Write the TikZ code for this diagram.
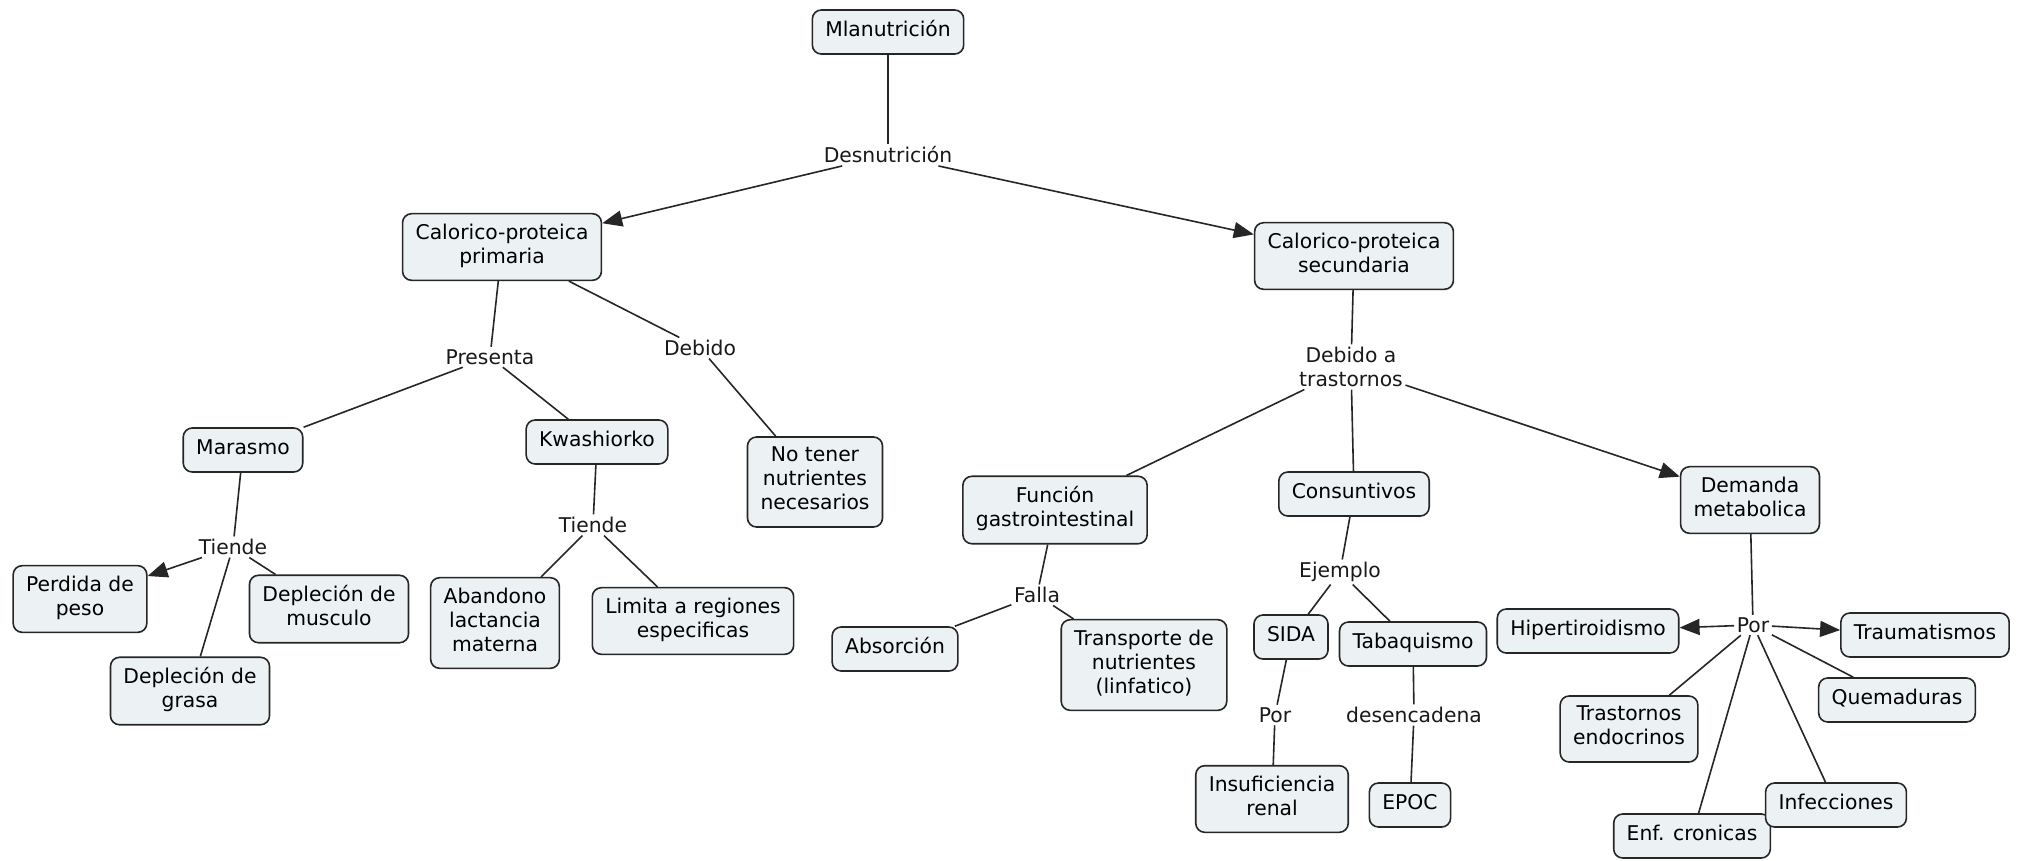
\documentclass[tikz,border=0pt]{standalone}
\usepackage{fontspec}
\setmainfont{DejaVu Sans}
\usepackage{tikz}
\usetikzlibrary{calc}
\usetikzlibrary{arrows.meta,shapes}
\definecolor{boxfill}{rgb}{0.925,0.945,0.953}
\definecolor{edge}{rgb}{0.15,0.15,0.15}

\begin{document}
\begin{tikzpicture}[x=1pt,y=-1pt,
  font=\fontsize{20.3}{24}\selectfont,
  concept/.style={draw=edge,fill=boxfill,line width=1.6pt,rounded corners=9pt,
    align=center,inner xsep=13pt,inner ysep=10pt,
    execute at begin node=\strut,execute at end node=\strut},
  link/.style={inner sep=2.5pt,align=center,text=black!90},
  conn/.style={draw=edge,line width=1.6pt},
  arr/.style={conn,-{Triangle[length=20pt,width=16pt]}}]
  \path[use as bounding box,fill=white] (0,0) rectangle (2023,860);

  \node[concept] (mal) at (888,32) {Mlanutrición};
  \node[link] (desn) at (888,155) {Desnutrición};
  \node[concept] (prim) at (502,247) {Calorico-proteica\\primaria};
  \node[concept] (sec) at (1354,256) {Calorico-proteica\\secundaria};

  \node[link] (pres) at (490,357) {Presenta};
  \node[link] (deb) at (700,348) {Debido};
  \node[concept] (mar) at (243,450) {Marasmo};
  \node[concept] (kwa) at (597,442) {Kwashiorko};
  \node[concept] (notener) at (815,482) {No tener\\nutrientes\\necesarios};
  \node[link] (tiem) at (233,547) {Tiende};
  \node[concept] (perd) at (80,599) {Perdida de\\peso};
  \node[concept] (depm) at (329,609) {Depleción de\\musculo};
  \node[concept] (depg) at (190,691) {Depleción de\\grasa};
  \node[link] (tiek) at (593,525) {Tiende};
  \node[concept] (aban) at (495,623) {Abandono\\lactancia\\materna};
  \node[concept] (limi) at (693,621) {Limita a regiones\\especificas};

  \node[link] (debtr) at (1351,367) {Debido a\\trastornos};
  \node[concept] (func) at (1055,510) {Función\\gastrointestinal};
  \node[concept] (cons) at (1354,494) {Consuntivos};
  \node[concept] (dema) at (1750,500) {Demanda\\metabolica};
  \node[link] (fall) at (1037,595) {Falla};
  \node[concept] (abso) at (895,649) {Absorción};
  \node[concept] (tran) at (1144,665) {Transporte de\\nutrientes\\(linfatico)};
  \node[link] (ejem) at (1340,572) {Ejemplo};
  \node[concept] (sida) at (1291,637) {SIDA};
  \node[concept] (taba) at (1413,644) {Tabaquismo};
  \node[link] (pors) at (1275,715) {Por};
  \node[link] (dese) at (1414,715) {desencadena};
  \node[concept] (insu) at (1272,799) {Insuficiencia\\renal};
  \node[concept] (epoc) at (1410,805) {EPOC};

  \node[concept] (hipe) at (1588,631) {Hipertiroidismo};
  \node[link] (pord) at (1753,625) {Por};
  \node[concept] (trau) at (1925,635) {Traumatismos};
  \node[concept] (tren) at (1629,729) {Trastornos\\endocrinos};
  \node[concept] (quem) at (1897,700) {Quemaduras};
  \node[concept] (enfc) at (1692,836) {Enf. cronicas};
  \node[concept] (infe) at (1836,805) {Infecciones};

  \draw[conn] (mal) -- (desn);
  \draw[arr] (desn) -- (prim);
  \draw[arr] (desn) -- (sec);
  \draw[conn] (prim) -- (pres);
  \draw[conn] (prim) -- (deb);
  \draw[conn] (pres) -- (mar);
  \draw[conn] (pres) -- (kwa);
  \draw[conn] (deb) -- (notener);
  \draw[conn] (mar) -- (tiem);
  \draw[arr] (tiem) -- (perd);
  \draw[conn] (tiem) -- (depm);
  \draw[conn] (tiem) -- (depg);
  \draw[conn] (kwa) -- (tiek);
  \draw[conn] (tiek) -- (aban);
  \draw[conn] (tiek) -- (limi);
  \draw[conn] (sec) -- (debtr);
  \draw[conn] (debtr) -- (func);
  \draw[conn] (debtr) -- (cons);
  \draw[arr] (debtr) -- (dema);
  \draw[conn] (func) -- (fall);
  \draw[conn] (fall) -- (abso);
  \draw[conn] (fall) -- (tran);
  \draw[conn] (cons) -- (ejem);
  \draw[conn] (ejem) -- (sida);
  \draw[conn] (ejem) -- (taba);
  \draw[conn] (sida) -- (pors);
  \draw[conn] (pors) -- (insu);
  \draw[conn] (taba) -- (dese);
  \draw[conn] (dese) -- (epoc);
  \draw[conn] (dema) -- (pord);
  \draw[arr] (pord) -- (hipe);
  \draw[arr] (pord) -- (trau);
  \draw[conn] (pord) -- (tren);
  \draw[conn] (pord) -- (quem);
  \draw[conn] (pord) -- (infe);
  \draw[conn] (pord) -- (enfc);
\end{tikzpicture}
\end{document}
